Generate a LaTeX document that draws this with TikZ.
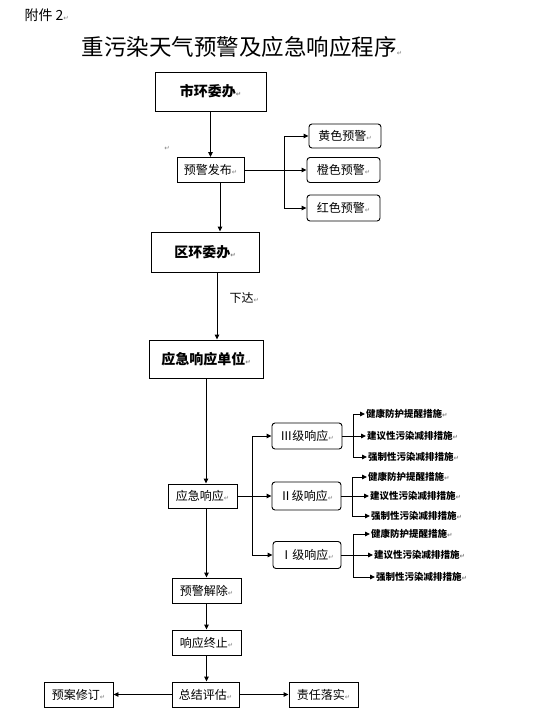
\documentclass[tikz,border=0pt]{standalone}
\usepackage{fontspec}
\setmainfont{Noto Sans CJK SC}
\newfontfamily\markfont{DejaVu Sans}
\usetikzlibrary{positioning, calc, arrows.meta}
\tikzstyle{Arrow} = [
	line width=0.9pt,
	-{Triangle[length=5pt, width=4.5pt]}
	]
\tikzstyle{Line} = [line width=0.9pt]
\newcommand{\pmark}{{\markfont\fontsize{6.5}{7}\selectfont\textcolor{gray}{↵}}}

\begin{document}
\begin{tikzpicture}[x=1pt, y=-1pt,
box/.style={draw, rectangle, 
	line width=0.9pt, 
	inner sep=0pt, 
	font=\fontsize{12}{12}\selectfont
	},
bigbox/.style={box, font=\fontsize{14}{14}\selectfont\bfseries},
rbox/.style={box, rounded corners=3pt},
measure/.style={anchor=west, 
	inner sep=1pt, 
	font=\fontsize{9.5}{10}\selectfont\bfseries
	}
]
 \useasboundingbox (0,0) rectangle (535,724);

 \node [anchor=west, font=\fontsize{14}{14}\selectfont] (att) at (21,15) {附件 2\pmark};
 \node [font=\fontsize{22.5}{23}\selectfont] (title) at (242,47) {重污染天气预警及应急响应程序\pmark};

 \node [bigbox, minimum width=111, minimum height=39] (sh) at (210.5,91.5) {市环委办\pmark};
 \node (pm) at (167,148) {\pmark};
 \node [box, minimum width=67, minimum height=25] (fb) at (210.5,170) {预警发布\pmark};
 \node [rbox, minimum width=72, minimum height=24] (y1) at (345,136) {黄色预警\pmark};
 \node [rbox, minimum width=73, minimum height=25] (y2) at (343.5,170) {橙色预警\pmark};
 \node [rbox, minimum width=73, minimum height=26] (y3) at (343.5,208) {红色预警\pmark};

 \node [bigbox, minimum width=108, minimum height=40] (qh) at (205,252) {区环委办\pmark};
 \node [anchor=west, font=\fontsize{12}{12}\selectfont] (xda) at (226,298) {下达\pmark};
 \node [bigbox, minimum width=114, minimum height=38] (dw) at (206,359) {应急响应单位\pmark};

 \node [box, minimum width=69, minimum height=24] (xy) at (202.5,496) {应急响应\pmark};
 \node [rbox, minimum width=70, minimum height=26] (r3) at (307,436) {Ⅲ级响应\pmark};
 \node [rbox, minimum width=69, minimum height=28] (r2) at (306.5,496) {Ⅱ级响应\pmark};
 \node [rbox, minimum width=68, minimum height=27] (r1) at (307,555) {Ⅰ级响应\pmark};

 % measures of each level
 \node [measure] (m31) at (365,414) {健康防护提醒措施\pmark};
 \node [measure] (m32) at (366,436) {建议性污染减排措施\pmark};
 \node [measure] (m33) at (367,457) {强制性污染减排措施\pmark};
 \node [measure] (m21) at (367,477) {健康防护提醒措施\pmark};
 \node [measure] (m22) at (369,496) {建议性污染减排措施\pmark};
 \node [measure] (m23) at (370,516) {强制性污染减排措施\pmark};
 \node [measure] (m11) at (370,534) {健康防护提醒措施\pmark};
 \node [measure] (m12) at (373,555) {建议性污染减排措施\pmark};
 \node [measure] (m13) at (375,577) {强制性污染减排措施\pmark};

 \node [box, minimum width=69, minimum height=25] (jc) at (206.5,590.5) {预警解除\pmark};
 \node [box, minimum width=69, minimum height=25] (zz) at (206.5,642.5) {响应终止\pmark};
 \node [box, minimum width=67, minimum height=25] (pg) at (205.5,694.5) {总结评估\pmark};
 \node [box, minimum width=69, minimum height=25] (xd) at (78.5,694.5) {预案修订\pmark};
 \node [box, minimum width=69, minimum height=25] (ls) at (323.5,694.5) {责任落实\pmark};

 \coordinate (b1) at (284,170);
 \coordinate (b2) at (252,496);
 \coordinate (b3) at ($(r3.east)+(11,0)$);
 \coordinate (b4) at ($(r2.east)+(11,0)$);
 \coordinate (b5) at ($(r1.east)+(12,0)$);

 \draw[Arrow] (sh) -- (fb);
 \draw[Arrow] (fb.east) -- (y2.west);
 \draw[Arrow] (b1) |- (y1.west);
 \draw[Arrow] (b1) |- (y3.west);

 \draw[Arrow] ([xshift=9.5]fb.south) -- ([xshift=9.5]fb.south |- qh.north);
 \draw[Arrow] ([xshift=12]qh.south) -- ([xshift=12]qh.south |- dw.north);
 \draw[Arrow] (dw.south) -- (dw.south |- xy.north);

 \draw[Arrow] (xy.east) -- (r2.west);
 \draw[Arrow] (b2) |- (r3.west);
 \draw[Arrow] (b2) |- (r1.west);

 \draw[Line] (r3.east) -- (b3);
 \draw[Arrow] (b3) |- (m31.west);
 \draw[Arrow] (b3) -- (m32.west);
 \draw[Arrow] (b3) |- (m33.west);

 \draw[Line] (r2.east) -- (b4);
 \draw[Arrow] (b4) |- (m21.west);
 \draw[Arrow] (b4) -- (m22.west);
 \draw[Arrow] (b4) |- (m23.west);

 \draw[Line] (r1.east) -- (b5);
 \draw[Arrow] (b5) |- (m11.west);
 \draw[Arrow] (b5) -- (m12.west);
 \draw[Arrow] (b5) |- (m13.west);

 \draw[Arrow] (jc.north |- xy.south) -- (jc.north);
 \draw[Arrow] (jc) -- (zz);
 \draw[Arrow] (zz.south) -- (zz.south |- pg.north);
 \draw[Arrow] (pg) -- (xd);
 \draw[Arrow] (pg) -- (ls);

\end{tikzpicture}
\end{document}
